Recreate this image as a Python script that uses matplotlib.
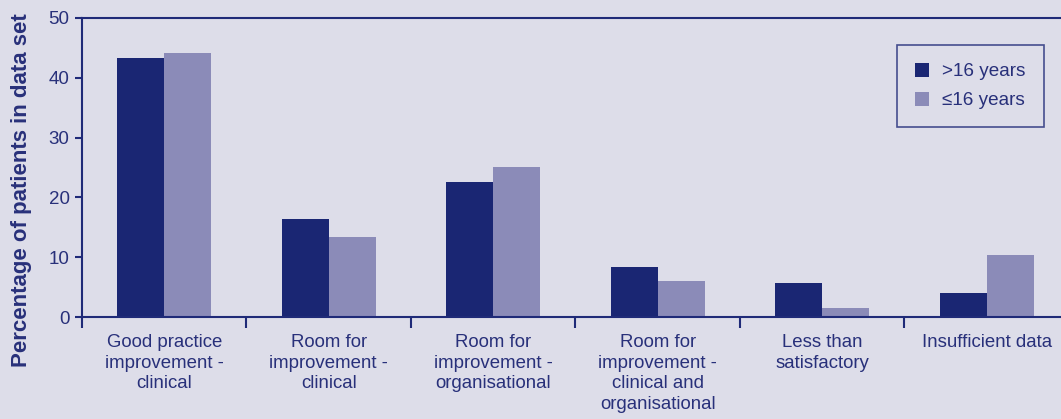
import matplotlib
matplotlib.use("Agg")
import matplotlib.pyplot as plt
import numpy as np
from matplotlib.patches import Patch

categories = ["Good practice\nimprovement -\nclinical",
              "Room for\nimprovement -\nclinical",
              "Room for\nimprovement -\norganisational",
              "Room for\nimprovement -\nclinical and\norganisational",
              "Less than\nsatisfactory",
              "Insufficient data"]
over16 = [43.3, 16.4, 22.6, 8.4, 5.7, 4.0]
under16 = [44.1, 13.4, 25.1, 6.0, 1.5, 10.4]
series_labels = [">16 years", "\u226416 years"]
yticks = [0, 10, 20, 30, 40, 50]

bg = "#dddde9"
dark = "#1a2673"
light = "#8b8bb8"
txt = "#28307a"
axc = "#1f2a78"

plt.rcParams['font.family'] = ['Liberation Sans', 'DejaVu Sans']

W, H = 1061, 419
fig = plt.figure(figsize=(W/100, H/100), dpi=100, facecolor=bg)
left, right, bottom, top = 82, 1069, 317, 18
ax = fig.add_axes([left/W, 1 - bottom/H, (right-left)/W, (bottom-top)/H])
ax.set_facecolor(bg)

x = np.arange(len(categories))
bw = 0.286
ax.bar(x - bw/2, over16, width=bw, color=dark, label=series_labels[0])
ax.bar(x + bw/2, under16, width=bw, color=light, label=series_labels[1])

ax.set_xlim(-0.5, len(categories) - 0.5)
ax.set_ylim(0, 50)
ax.set_yticks(yticks)
ax.set_xticks(np.arange(len(categories) + 1) - 0.5)
ax.set_xticklabels([])
ax.set_xticks(x, minor=True)
ax.set_xticklabels(categories, minor=True, fontsize=13.4, color=txt, linespacing=1.3)
ax.tick_params(axis='x', which='minor', length=0, pad=12)
ax.tick_params(axis='x', which='major', length=8, width=1.5, color=axc, direction='out')
ax.tick_params(axis='y', length=5, width=1.5, color=axc, labelsize=13.5, labelcolor=txt, pad=4)

for s in ['left', 'bottom', 'top', 'right']:
    ax.spines[s].set_color(axc)
    ax.spines[s].set_linewidth(1.5)

fig.text(22/W, 1 - 190/H, "Percentage of patients in data set", rotation=90,
         ha='center', va='center', fontsize=16, fontweight='bold', color=txt)

handles = [Patch(facecolor=dark, label=series_labels[0]), Patch(facecolor=light, label=series_labels[1])]
leg = ax.legend(handles=handles, loc='upper left', bbox_to_anchor=((897-left)/(right-left), 1 - (45-top)/(bottom-top)),
                frameon=True, fancybox=False, edgecolor=axc, facecolor=bg, fontsize=13.6,
                handlelength=0.75, handleheight=0.75, handletextpad=0.7, borderpad=0.95, labelspacing=0.6,
                borderaxespad=0)
for t in leg.get_texts():
    t.set_color(txt)
leg.get_frame().set_linewidth(1.2)

fig.savefig("out.png", dpi=100, facecolor=bg)
